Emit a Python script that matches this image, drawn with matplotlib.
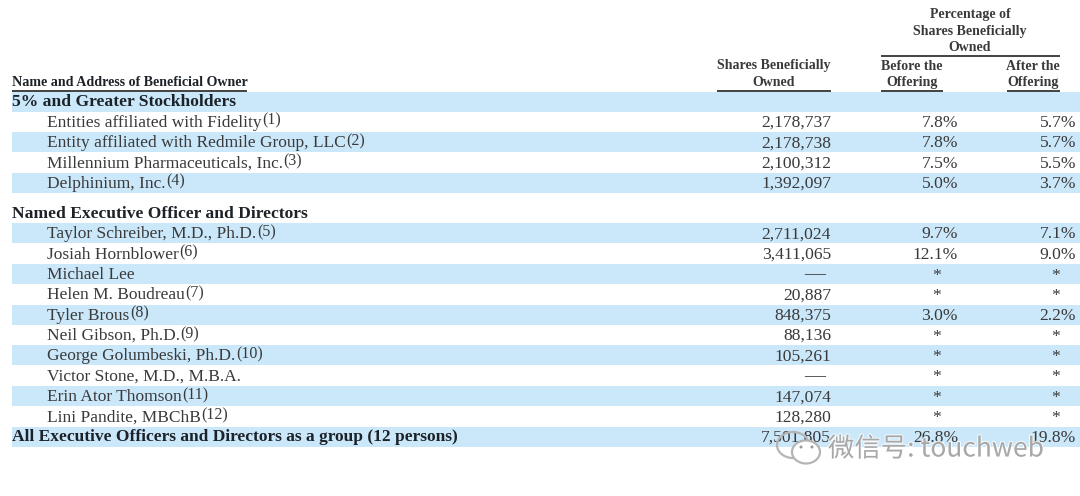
import matplotlib
matplotlib.use("Agg")
import matplotlib.pyplot as plt
from matplotlib.patches import Ellipse, Rectangle
import matplotlib.patheffects as pe

# table content
groups1 = ["Entities affiliated with Fidelity", "Entity affiliated with Redmile Group, LLC",
           "Millennium Pharmaceuticals, Inc.", "Delphinium, Inc."]
notes1 = ["(1)", "(2)", "(3)", "(4)"]
shares1 = ["2,178,737", "2,178,738", "2,100,312", "1,392,097"]
before1 = ["7.8%", "7.8%", "7.5%", "5.0%"]
after1 = ["5.7%", "5.7%", "5.5%", "3.7%"]

names2 = ["Taylor Schreiber, M.D., Ph.D.", "Josiah Hornblower", "Michael Lee", "Helen M. Boudreau",
          "Tyler Brous", "Neil Gibson, Ph.D.", "George Golumbeski, Ph.D.", "Victor Stone, M.D., M.B.A.",
          "Erin Ator Thomson", "Lini Pandite, MBChB"]
notes2 = ["(5)", "(6)", "", "(7)", "(8)", "(9)", "(10)", "", "(11)", "(12)"]
shares2 = ["2,711,024", "3,411,065", "—", "20,887", "848,375", "88,136", "105,261", "—", "147,074", "128,280"]
before2 = ["9.7%", "12.1%", "*", "*", "3.0%", "*", "*", "*", "*", "*"]
after2 = ["7.1%", "9.0%", "*", "*", "2.2%", "*", "*", "*", "*", "*"]

total_label = "All Executive Officers and Directors as a group (12 persons)"
total_shares = "7,501,805"  # middle digits hidden by the watermark
total_before = "26.8%"
total_after = "19.8%"

TXT = "#3a3a3a"
DARK = "#1c2228"
BAND = "#cbe8fb"
SERIF = "Liberation Serif"
FS = 12.5
FSN = 12.6

plt.rcParams["font.family"] = [SERIF, "Noto Sans CJK SC", "DejaVu Sans"]

fig = plt.figure(figsize=(10.8, 4.96), dpi=100)
ax = fig.add_axes([0, 0, 1, 1])
ax.set_xlim(0, 1080)
ax.set_ylim(496, 0)
ax.axis("off")

PITCH = 20.35
Y0 = 101.5
Y2 = 213


def band(y):
    ax.add_patch(Rectangle((12, y - 10), 1068, 20, fc=BAND, ec="none", zorder=0))


def row(y, name, note, shares, before, after):
    t = ax.text(47, y + 1, name, fontsize=FS, color=TXT, va="center", ha="left")
    if note:
        ax.annotate(note, xy=(1, 0.5), xycoords=t, xytext=(0.5, 1.5), textcoords="offset points",
                    fontsize=11.5, color=TXT, va="center", ha="left")
    if shares == "—":
        ax.text(825, y + 1, shares, fontsize=15, color=TXT, va="center", ha="right")
    else:
        ax.text(831, y + 1, shares, fontsize=FSN, color=TXT, va="center", ha="right")
    if before == "*":
        ax.text(937, y + 1.5, before, fontsize=FSN, color=TXT, va="center", ha="center")
        ax.text(1056, y + 1.5, after, fontsize=FSN, color=TXT, va="center", ha="center")
    else:
        ax.text(958, y + 1, before, fontsize=FSN, color=TXT, va="center", ha="right")
        ax.text(1076, y + 1, after, fontsize=FSN, color=TXT, va="center", ha="right")


# first block
band(Y0)
ax.text(12, Y0 + 0.5, "5% and Greater Stockholders", fontsize=12.6, fontweight="bold", color=DARK, va="center")
for i in range(len(groups1)):
    y = Y0 + (i + 1) * PITCH
    if i % 2 == 1:
        band(y)
    row(y, groups1[i], notes1[i], shares1[i], before1[i], after1[i])

# second block
ax.text(12, Y2 + 0.5, "Named Executive Officer and Directors", fontsize=12.6, fontweight="bold", color=DARK, va="center")
for i in range(len(names2)):
    y = Y2 + (i + 1) * PITCH
    if i % 2 == 0:
        band(y)
    row(y, names2[i], notes2[i], shares2[i], before2[i], after2[i])

# total
y = Y2 + 11 * PITCH
band(y)
ax.text(12, y + 0.5, total_label, fontsize=12.5, fontweight="bold", color=DARK, va="center")

# watermark goes over the last numbers
wm = dict(fc="none", ec="#b5b5b5", lw=1.6, zorder=5)
ax.add_patch(Ellipse((793, 445), 32, 26, **wm))
ax.add_patch(Ellipse((806, 452), 28, 23, fc="white", ec="#b5b5b5", lw=1.6, zorder=6))
for dx in (801, 812):
    ax.add_patch(Ellipse((dx, 447), 3, 3, fc="#999999", ec="none", zorder=7))

ax.text(831, y + 1, total_shares, fontsize=FSN, color=TXT, va="center", ha="right", zorder=4)
ax.text(958, y + 1, total_before, fontsize=FSN, color=TXT, va="center", ha="right", zorder=4)
ax.text(1076, y + 1, total_after, fontsize=FSN, color=TXT, va="center", ha="right", zorder=4)

ax.text(828, 449, "微信号: touchweb", fontsize=19, color="#a8a8a8", va="center", ha="left", zorder=8,
        family=["Noto Sans CJK SC", "DejaVu Sans"],
        path_effects=[pe.withStroke(linewidth=1.5, foreground="white", alpha=0.8)])

# headers
hdr = dict(fontsize=10, fontweight="bold", color=TXT, va="center", ha="center")
ax.text(129.5, 82, "Name and Address of Beneficial Owner", **{**hdr, "color": DARK, "fontsize": 10.05})
ax.text(774, 66, "Shares Beneficially", **hdr)
ax.text(774, 82.5, "Owned", **hdr)
ax.text(970, 14.5, "Percentage of", **hdr)
ax.text(970, 31, "Shares Beneficially", **hdr)
ax.text(970, 47.5, "Owned", **hdr)
ax.text(912, 66, "Before the", **hdr)
ax.text(912, 82.5, "Offering", **hdr)
ax.text(1033, 66, "After the", **hdr)
ax.text(1033, 82.5, "Offering", **hdr)
for x0, x1, yl in [(12, 247, 90.5), (717, 831, 91), (881, 943, 91), (1007, 1060, 91), (881, 1060, 56)]:
    ax.plot([x0, x1], [yl, yl], color="#222222", lw=1.2, solid_capstyle="butt")

fig.savefig("out.png", dpi=100)
